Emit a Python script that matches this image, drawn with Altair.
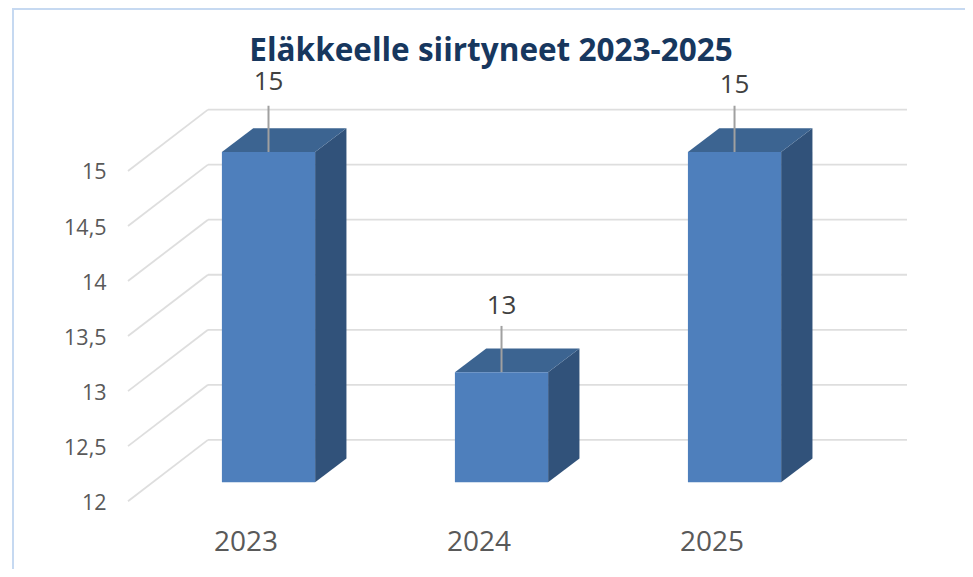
import altair as alt
import pandas as pd

# ---- chart values ----
years = ["2023", "2024", "2025"]
retired = [15, 13, 15]
y_ticks = [12, 12.5, 13, 13.5, 14, 14.5, 15]
label_lift = [0.635, 0.60, 0.61]

# ---- pseudo-3D geometry, in data units ----
BASE = 12
HALF = 0.2        # half a bar's width
DEPTH_X = 0.1345  # bar depth, x
DEPTH_Y = 0.2150  # bar depth, y
LEADER = 0.42
WALL_LEFT, WALL_RIGHT = -0.2597, 2.7403
FLOOR_LEFT = -0.603
BACK_DY, FRONT_DY = 0.385, -0.172
FONT = "Open Sans"

front_rows, side_rows, top_rows, label_rows = [], [], [], []
for i, (yr, v) in enumerate(zip(years, retired)):
    l, r = i - HALF, i + HALF
    front_rows.append({"l": l, "r": r, "v": v, "b": BASE})
    side_rows += [
        {"bar": yr, "x": r, "y": v, "y2": BASE},
        {"bar": yr, "x": r + DEPTH_X, "y": v + DEPTH_Y, "y2": BASE + DEPTH_Y},
    ]
    top_rows += [
        {"bar": yr, "y": v, "x": l, "x2": r},
        {"bar": yr, "y": v + DEPTH_Y, "x": l + DEPTH_X, "x2": r + DEPTH_X},
    ]
    label_rows.append({"i": i, "v": v, "top": v + LEADER, "ly": v + label_lift[i], "t": str(v)})

grid_rows = [{"t": t, "back": t + BACK_DY, "front": t + FRONT_DY,
              "x0": FLOOR_LEFT, "x1": WALL_LEFT, "x2": WALL_RIGHT} for t in y_ticks]

x_scale = alt.Scale(domain=[-0.603, 2.796], nice=False, zero=False)
y_scale = alt.Scale(domain=[11.748, 15.563], nice=False, zero=False)

label_expr = "[" + ",".join(f"'{y}'" for y in years) + "][datum.value]"
x_axis = alt.Axis(values=list(range(len(years))), labelExpr=label_expr, title=None, domain=False,
                  ticks=False, grid=False, labelOffset=-23, labelPadding=18, labelFont=FONT,
                  labelFontSize=28, labelColor="#595959", labelFlush=False)
y_axis = alt.Axis(values=y_ticks, format=".1~f", labelExpr="replace(datum.label,'.',',')", title=None,
                  domain=False, ticks=False, grid=False, labelOffset=21, labelPadding=22,
                  labelFont=FONT, labelFontSize=21.5, labelColor="#595959")

grid = pd.DataFrame(grid_rows)
back = alt.Chart(grid).mark_rule(color="#dedede", strokeWidth=1.8).encode(
    x=alt.X("x1:Q", scale=x_scale, axis=x_axis), x2="x2:Q",
    y=alt.Y("back:Q", scale=y_scale, axis=y_axis), y2="back:Q")
diag = alt.Chart(grid).mark_rule(color="#dedede", strokeWidth=1.8).encode(
    x=alt.X("x0:Q", scale=x_scale), x2="x1:Q",
    y=alt.Y("front:Q", scale=y_scale), y2="back:Q")

side = alt.Chart(pd.DataFrame(side_rows)).mark_area(color="#31527a", opacity=1).encode(
    x=alt.X("x:Q", scale=x_scale), y=alt.Y("y:Q", scale=y_scale), y2="y2:Q", detail="bar:N")
top = alt.Chart(pd.DataFrame(top_rows)).mark_area(color="#3c6491", opacity=1, orient="horizontal").encode(
    x=alt.X("x:Q", scale=x_scale), x2="x2:Q", y=alt.Y("y:Q", scale=y_scale), detail="bar:N")
front = alt.Chart(pd.DataFrame(front_rows)).mark_rect(color="#4e7fbc").encode(
    x=alt.X("l:Q", scale=x_scale), x2="r:Q", y=alt.Y("v:Q", scale=y_scale), y2="b:Q")

labels = pd.DataFrame(label_rows)
leader = alt.Chart(labels).mark_rule(color="#a0a0a0", strokeWidth=2).encode(
    x=alt.X("i:Q", scale=x_scale), y=alt.Y("v:Q", scale=y_scale), y2="top:Q")
value_text = alt.Chart(labels).mark_text(font=FONT, fontSize=26, color="#404040", baseline="middle").encode(
    x=alt.X("i:Q", scale=x_scale), y=alt.Y("ly:Q", scale=y_scale), text="t:N")

frame_color = "#c6d9f1"
frame_df = pd.DataFrame({"a": [0]})
frame_left = alt.Chart(frame_df).mark_rule(color=frame_color, strokeWidth=2).encode(
    x=alt.value(-115), y=alt.value(-82), y2=alt.value(479))
frame_top = alt.Chart(frame_df).mark_rule(color=frame_color, strokeWidth=2).encode(
    x=alt.value(-116), x2=alt.value(837), y=alt.value(-81))

chart = alt.layer(back, diag, side, top, front, leader, value_text, frame_left, frame_top).properties(
    width=792, height=420,
    title=alt.TitleParams("Eläkkeelle siirtyneet 2023-2025", font=FONT, fontSize=31.5, fontWeight="bold",
                          color="#17375e", anchor="middle", frame="group", dx=-33, offset=-92,
                          baseline="bottom"),
    autosize=alt.AutoSizeParams(type="none"),
    padding={"left": 120, "top": 82, "right": 45, "bottom": 59},
    background="white",
).configure_view(stroke=None)

chart.save("out.html", embed_options={"renderer": "svg", "actions": False})
